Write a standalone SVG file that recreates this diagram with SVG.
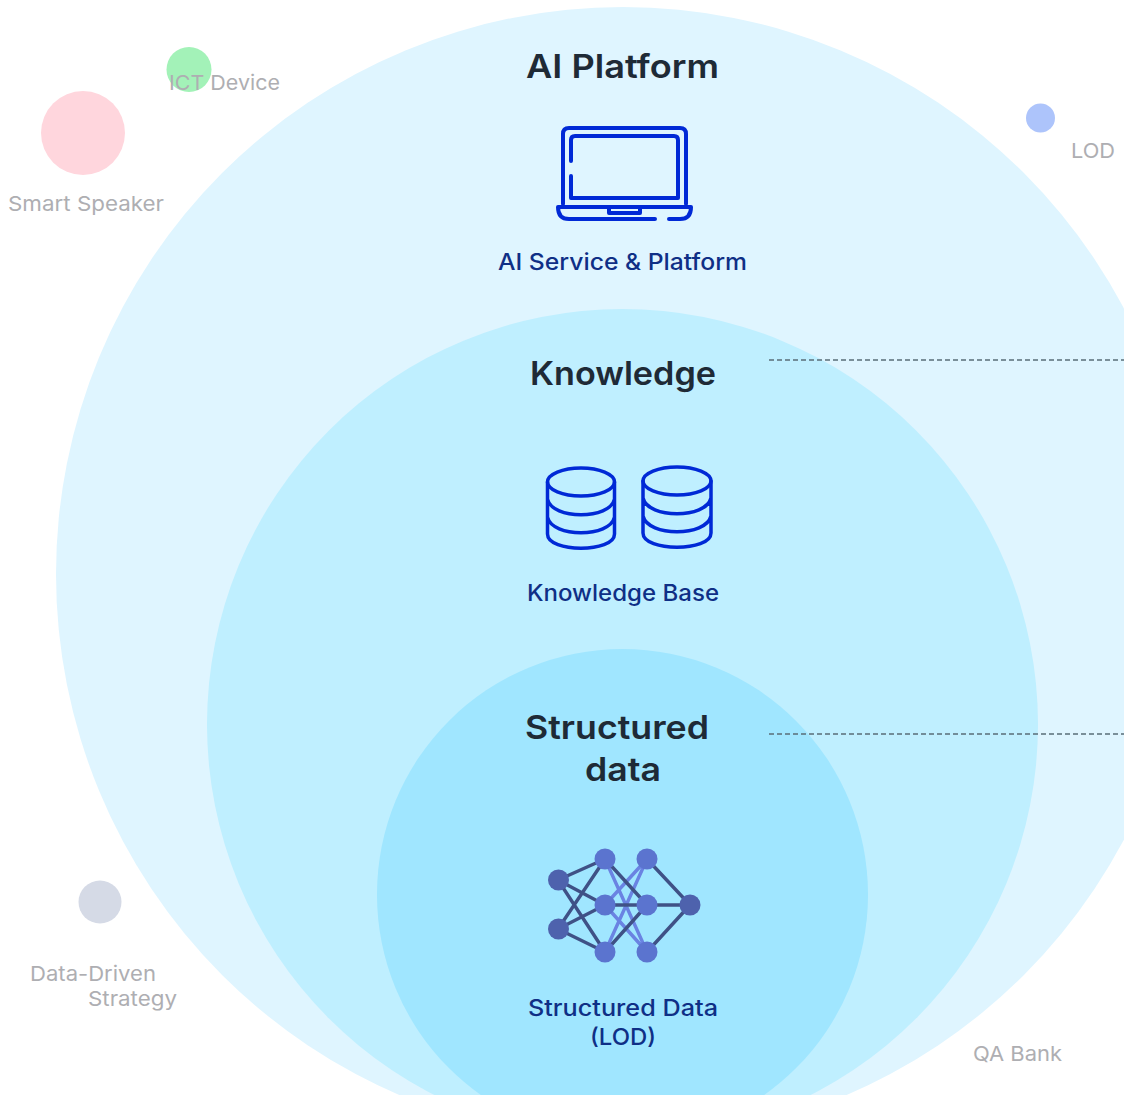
<svg xmlns="http://www.w3.org/2000/svg" width="1124" height="1095" viewBox="0 0 1124 1095">
<style>
.g{font-family:"Inter","Noto Sans","Liberation Sans",sans-serif;font-size:20.5px;fill:#aeaeb2}
.h{font-family:"Inter","Noto Sans","Liberation Sans",sans-serif;font-size:33px;font-weight:600;fill:#1e2a36;letter-spacing:0}
.s{font-family:"Inter","Noto Sans","Liberation Sans",sans-serif;font-size:22.5px;font-weight:500;fill:#0f2f86}
.i{fill:none;stroke:#0029d6;stroke-linecap:round;stroke-linejoin:round}
.d{stroke:#3f5186;stroke-width:3.4}
.l{stroke:#6a83e2;stroke-width:3.4}
.n{fill:#5b74cf}
.k{fill:#4e62ad}
.c{stroke:#5a6d78;stroke-width:1.3;stroke-dasharray:5 3;fill:none}
</style>
<rect width="1124" height="1095" fill="#fff"/>
<g id="ai-platform"><circle cx="623" cy="574" r="567" fill="#dff5ff"/></g>
<g id="knowledge"><circle cx="622.5" cy="724.500" r="415.5" fill="#bfefff"/></g>
<g id="structured-data"><circle cx="622.5" cy="894.500" r="245.5" fill="#a0e6ff"/></g>
<g id="connectors">
<path class="c" d="M769 360H1124"/>
<path class="c" d="M769 734H1124"/>
</g>
<g id="smart-speaker"><circle cx="83" cy="133" r="42" fill="#ffd6dd"/><text class="g" x="8" y="211" textLength="156" lengthAdjust="spacingAndGlyphs">Smart Speaker</text></g>
<g id="ict-device"><circle cx="189" cy="69.500" r="22.500" fill="#a3f2b8"/><text class="g" x="169" y="90" textLength="111" lengthAdjust="spacingAndGlyphs">ICT Device</text></g>
<g id="lod"><circle cx="1040.500" cy="118" r="14.500" fill="#adc4fb"/><text class="g" x="1071" y="158" textLength="44" lengthAdjust="spacingAndGlyphs">LOD</text></g>
<g id="data-driven"><circle cx="100" cy="902" r="21.500" fill="#d5dae6"/><text class="g" x="30" y="981" textLength="126" lengthAdjust="spacingAndGlyphs">Data-Driven</text><text class="g" x="88" y="1006" textLength="89" lengthAdjust="spacingAndGlyphs">Strategy</text></g>
<g id="qa-bank"><text class="g" x="973" y="1061" textLength="89" lengthAdjust="spacingAndGlyphs">QA Bank</text></g>
<g id="ai-title"><text class="h" x="526" y="78" textLength="193" lengthAdjust="spacingAndGlyphs">AI Platform</text></g>
<g id="ai-service">
<path class="i" stroke-width="4" d="M563 204V134Q563 128 569 128H680Q686 128 686 134V204"/>
<path class="i" stroke-width="4" d="M571 161V140Q571 136 575 136H674Q678 136 678 140V198H571V176"/>
<path class="i" stroke-width="4" d="M669 219H680Q691 219 691 207H558Q558 219 569 219H655M609 207V213H640V207"/>
<text class="s" x="498" y="270" textLength="249" lengthAdjust="spacingAndGlyphs">AI Service &amp; Platform</text>
</g>
<g id="kn-title"><text class="h" x="530" y="385" textLength="186" lengthAdjust="spacingAndGlyphs">Knowledge</text></g>
<g id="kb">
<g class="i" stroke-width="3.500">
<ellipse cx="581" cy="482" rx="33.500" ry="14"/>
<path d="M547.500 482V534C547.500 553 614.500 553 614.500 534V482M547.500 499C552 520 610 520 614.500 499M547.500 517C552 538 610 538 614.500 517"/>
<ellipse cx="677" cy="481" rx="34" ry="14"/>
<path d="M643 481V533C643 552 711 552 711 533V481M643 498C648 519 706 519 711 498M643 516C648 537 706 537 711 516"/>
</g>
<text class="s" x="527" y="601" textLength="192" lengthAdjust="spacingAndGlyphs">Knowledge Base</text>
</g>
<g id="sd-title"><text class="h" x="525" y="739" textLength="184" lengthAdjust="spacingAndGlyphs">Structured</text><text class="h" x="585" y="781" textLength="76" lengthAdjust="spacingAndGlyphs">data</text></g>
<g id="network">
<path class="l" d="M605 859L647 952M647 859L605 952M605 905L647 952M647 859L605 905"/>
<path class="d" d="M558 880L605 859M558 880L605 905M558 880L605 952M558 929L605 859M558 929L605 905M558 929L605 952M605 859L647 905M605 905H690M605 952L647 905M647 859L690 905M647 952L690 905"/>
<circle class="k" cx="558.500" cy="880" r="10.500"/><circle class="k" cx="558.500" cy="929" r="10.500"/>
<circle class="n" cx="605" cy="859" r="10.500"/><circle class="n" cx="605" cy="905" r="10.500"/><circle class="n" cx="605" cy="952" r="10.500"/>
<circle class="n" cx="647" cy="859" r="10.500"/><circle class="n" cx="647" cy="905" r="10.500"/><circle class="n" cx="647" cy="952" r="10.500"/>
<circle class="k" cx="690" cy="905" r="10.500"/>
</g>
<g id="sd-label"><text class="s" x="528" y="1016" textLength="190" lengthAdjust="spacingAndGlyphs">Structured Data</text><text class="s" x="590" y="1045" textLength="66" lengthAdjust="spacingAndGlyphs">(LOD)</text></g>
</svg>
